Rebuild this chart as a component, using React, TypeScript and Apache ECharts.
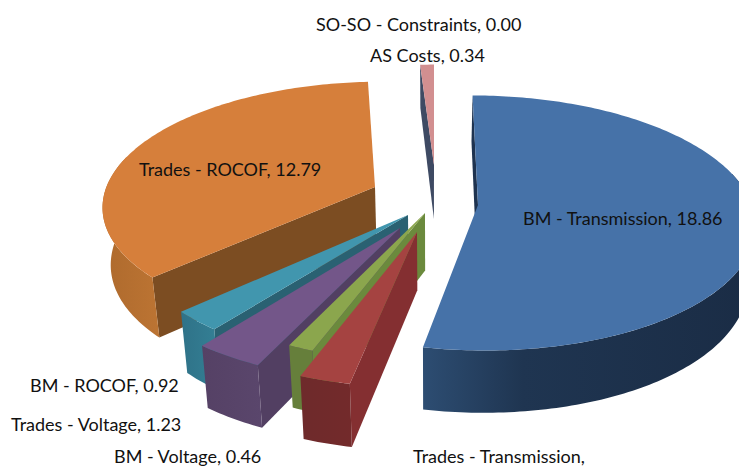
import React, { useEffect, useRef } from "react";
import * as echarts from "echarts";

// Slices clockwise from 12 o'clock
const categories = ["BM - Transmission", "Trades - Transmission", "BM - Voltage", "Trades - Voltage", "BM - ROCOF", "Trades - ROCOF", "AS Costs", "SO-SO - Constraints"];
const values = [18.86, 0.9, 0.46, 1.23, 0.92, 12.79, 0.34, 0.0];
// Label of the second slice is cut off by the frame in the reference: no value is shown.
const showValue = [true, false, true, true, true, true, true, true];

// Paint order (back to front)
const paintOrder = [6, 0, 5, 4, 3, 2, 1];

// Per-slice explosion offset from the pie centre
const explodeX = [44, -17, -9, -34, -26, -59, 0, 0];
const explodeY = [7, 34, 15, 30, 17, -11, -33, -33];

const topColors = ["#4672A8", "#A54341", "#8BA64D", "#735689", "#4196AE", "#D67F3B", "#D28F90", "#D28F90"];
const wallColors = ["#1E3350", "#842F31", "#6B8A3D", "#523F62", "#2A6172", "#7C4D22", "#3E4A63", "#3E4A63"];
const rimColorsA = ["#2D4D72", "#732A2B", "#667F3B", "#5A466C", "#348095", "#BC7433", "#3E4A63", "#3E4A63"];
const rimColorsB = ["#1A2C45", "#6E2A2B", "#667F3B", "#554165", "#2F7288", "#AE6A2D", "#3E4A63", "#3E4A63"];

const labelX = [523, 413, 114, 11, 30, 139, 370, 316];
const labelY = [218, 456, 456, 424, 385, 169, 55, 24];

// Projection constants
const CX = 434, CY = 198, RX = 272, RY = 123, PERSP = 0.14, VX = 430, LEAN = 0.025;
const total = values.reduce((a, b) => a + b, 0);
const startAngle = values.map((_, i) => (values.slice(0, i).reduce((a, b) => a + b, 0) / total) * 360);

function project(X: number, Y: number): number[] {
  const w = 1 - PERSP * Y;
  return [CX + (RX * X) / w, CY + (RY * Y) / w];
}
// World position of each slice's apex, from its explosion offset
function apexWorld(i: number): number[] {
  const q = explodeY[i] / RY;
  const Y = q / (1 + PERSP * q);
  const X = (explodeX[i] * (1 - PERSP * Y)) / RX;
  return [X, Y];
}
function worldAt(i: number, deg: number): number[] {
  const t = (deg * Math.PI) / 180;
  const [ax, ay] = apexWorld(i);
  return [ax + Math.sin(t), ay - Math.cos(t)];
}
function depth(Y: number) { return Y >= 0 ? 57 + 5 * Y : 57 + 11 * Y; }
function drop(p: number[], Y: number): number[] {
  return [p[0] + (VX - p[0]) * LEAN, p[1] + depth(Y)];
}
function rimTop(i: number, deg: number): number[] {
  const [X, Y] = worldAt(i, deg);
  return project(X, Y);
}
function rimBottom(i: number, deg: number): number[] {
  const [X, Y] = worldAt(i, deg);
  return drop(project(X, Y), Y);
}

const renderSlice = (params: any, api: any) => {
  const i = paintOrder[params.dataIndex];
  const v = api.value(0);
  const a0 = startAngle[i], a1 = a0 + (v / total) * 360;
  const [ax, ay] = apexWorld(i);
  const apex = project(ax, ay);
  const arc: number[][] = [];
  const n = Math.max(2, Math.ceil(a1 - a0));
  for (let k = 0; k <= n; k++) arc.push(rimTop(i, a0 + ((a1 - a0) * k) / n));
  const children: any[] = [];
  // visible start wall
  children.push({
    type: "polygon",
    shape: { points: [apex, rimTop(i, a0), rimBottom(i, a0), drop(apex, ay)] },
    style: { fill: wallColors[i] },
  });
  // outer rim, front part only
  const r0 = Math.max(a0, 75), r1 = Math.min(a1, 285);
  if (r1 > r0) {
    const up: number[][] = [], dn: number[][] = [];
    const m = Math.ceil(r1 - r0);
    for (let k = 0; k <= m; k++) {
      const d = r0 + ((r1 - r0) * k) / m;
      up.push(rimTop(i, d));
      dn.unshift(rimBottom(i, d));
    }
    children.push({
      type: "polygon",
      shape: { points: up.concat(dn) },
      style: {
        fill: new echarts.graphic.LinearGradient(0, 0, 1, 0, i === 0
          ? [{ offset: 0, color: rimColorsA[i] }, { offset: 0.3, color: "#1F3551" }, { offset: 1, color: rimColorsB[i] }]
          : [{ offset: 0, color: rimColorsB[i] }, { offset: 1, color: rimColorsA[i] }]),
      },
    });
  }
  children.push({
    type: "polygon",
    shape: { points: [apex, ...arc] },
    style: { fill: topColors[i] },
  });
  return { type: "group", children };
};

export default function App() {
  const ref = useRef<HTMLDivElement>(null);
  useEffect(() => {
    document.body.style.margin = "0";
    const chart = echarts.init(ref.current!, undefined, { renderer: "svg" });
    chart.setOption({
      animation: false,
      backgroundColor: "#ffffff",
      series: [{
        type: "custom",
        coordinateSystem: "none",
        silent: true,
        clip: false,
        data: paintOrder.map((i) => [values[i]]),
        encode: { value: 0 },
        renderItem: renderSlice,
      }],
      graphic: categories.map((c, i) => ({
        type: "text",
        z: 100,
        x: labelX[i],
        y: labelY[i],
        style: {
          text: showValue[i] ? `${c}, ${values[i].toFixed(2)}` : `${c},`,
          font: '18px Lato',
          fill: "#111111",
          textAlign: "left",
          textVerticalAlign: "middle",
        },
      })),
    });
    return () => chart.dispose();
  }, []);
  return <div ref={ref} style={{ width: 739, height: 467 }} />;
}
